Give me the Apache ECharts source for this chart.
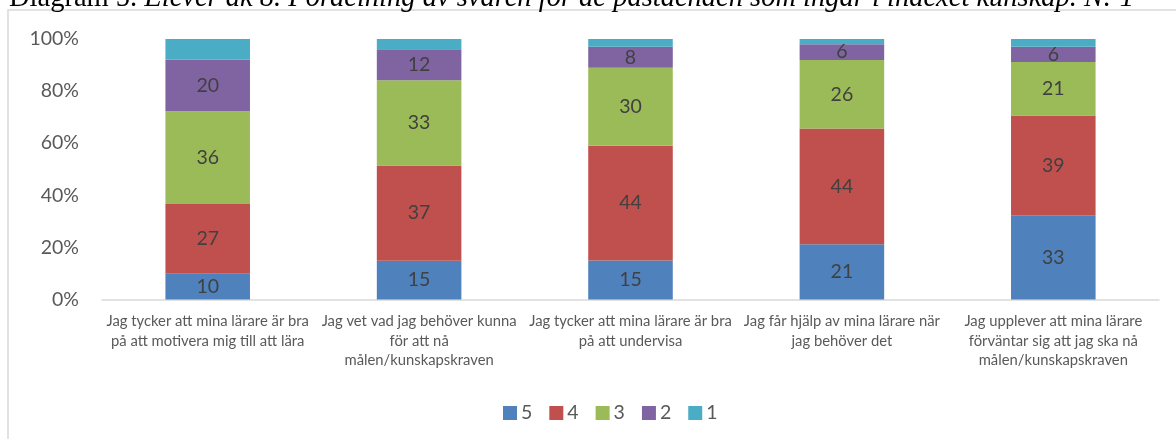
<!DOCTYPE html>
<html>
<head>
<meta charset="utf-8">
<script src="https://cdn.jsdelivr.net/npm/echarts@6/dist/echarts.min.js"></script>
<style>
  html, body { margin: 0; padding: 0; background: #fff; }
  #chart { width: 1176px; height: 439px; }
</style>
</head>
<body>
<div id="chart"></div>
<script>
// categories (statements)
const categories = [
  'Jag tycker att mina lärare är bra\npå att motivera mig till att lära',
  'Jag vet vad jag behöver kunna\nför att nå\nmålen/kunskapskraven',
  'Jag tycker att mina lärare är bra\npå att undervisa',
  'Jag får hjälp av mina lärare när\njag behöver det',
  'Jag upplever att mina lärare\nförväntar sig att jag ska nå\nmålen/kunskapskraven'
];
// answer share per grade (teal "1" values estimated, not labelled)
const svar5 = [10, 15, 15, 21, 33];
const svar4 = [27, 37, 44, 44, 39];
const svar3 = [36, 33, 30, 26, 21];
const svar2 = [20, 12, 8, 6, 6];
const svar1 = [8, 4, 3, 2, 3];
const yTicks = [0, 20, 40, 60, 80, 100];

const font = 'Lato, "Open Sans", sans-serif';
const raw = [svar5, svar4, svar3, svar2, svar1];
const names = ['5', '4', '3', '2', '1'];
const colors = ['#4F81BD', '#C0504D', '#9BBB59', '#8064A2', '#4BACC6'];

// 100% stacked: normalise every column to its total
const totals = categories.map((_, i) => raw.reduce((s, arr) => s + arr[i], 0));

const myChart = echarts.init(document.getElementById('chart'));

const series = raw.map((arr, k) => ({
  name: names[k],
  type: 'bar',
  stack: 'total',
  barWidth: '40%',
  data: arr.map((v, i) => ({ value: v / totals[i] * 100, raw: v })),
  itemStyle: { color: colors[k] },
  label: {
    show: k < 4,
    position: 'inside',
    color: '#404040',
    fontSize: 19.5,
    fontFamily: font,
    formatter: p => p.data.raw
  }
}));

const option = {
  animation: false,
  backgroundColor: '#fff',
  graphic: [
    {
      type: 'rect',
      shape: { x: 8, y: 10, width: 1220, height: 500 },
      style: { fill: 'none', stroke: '#d9d9d9', lineWidth: 1.5 },
      z: -1
    },
    {
      type: 'text',
      left: 9,
      top: -16,
      z: 10,
      style: {
        rich: {
          n: { fontFamily: '"Liberation Serif", serif', fontSize: 28.5, fill: '#000' },
          i: { fontFamily: '"Liberation Serif", serif', fontSize: 28.5, fontStyle: 'italic', fill: '#000' }
        },
        text: '{n|Diagram 5. }{i|Elever åk 8. Fördelning av svaren för de påståenden som ingår i indexet kunskap. N: 1}'
      }
    }
  ],
  grid: {
    left: 102,
    right: 17,
    top: 39,
    bottom: 139.5
  },
  legend: {
    left: 498,
    top: 398,
    itemWidth: 14,
    itemHeight: 14,
    itemGap: 17,
    icon: 'rect',
    textStyle: { color: '#595959', fontSize: 19.5, fontFamily: font, padding: [0, 0, 0, -1] },
    data: names
  },
  xAxis: {
    type: 'category',
    data: categories,
    axisLine: { lineStyle: { color: '#d9d9d9', width: 1.5 } },
    axisTick: { show: false },
    axisLabel: {
      color: '#595959',
      fontSize: 14.8,
      fontFamily: font,
      lineHeight: 19.5,
      margin: 12,
      interval: 0
    }
  },
  yAxis: {
    type: 'value',
    min: 0,
    max: 100,
    interval: 20,
    axisLine: { show: false },
    axisTick: { show: false },
    splitLine: { show: false },
    axisLabel: {
      color: '#595959',
      fontSize: 19.5,
      fontFamily: font,
      margin: 23,
      formatter: v => yTicks.includes(v) ? v + '%' : ''
    }
  },
  series: series
};

myChart.setOption(option);
</script>
</body>
</html>
